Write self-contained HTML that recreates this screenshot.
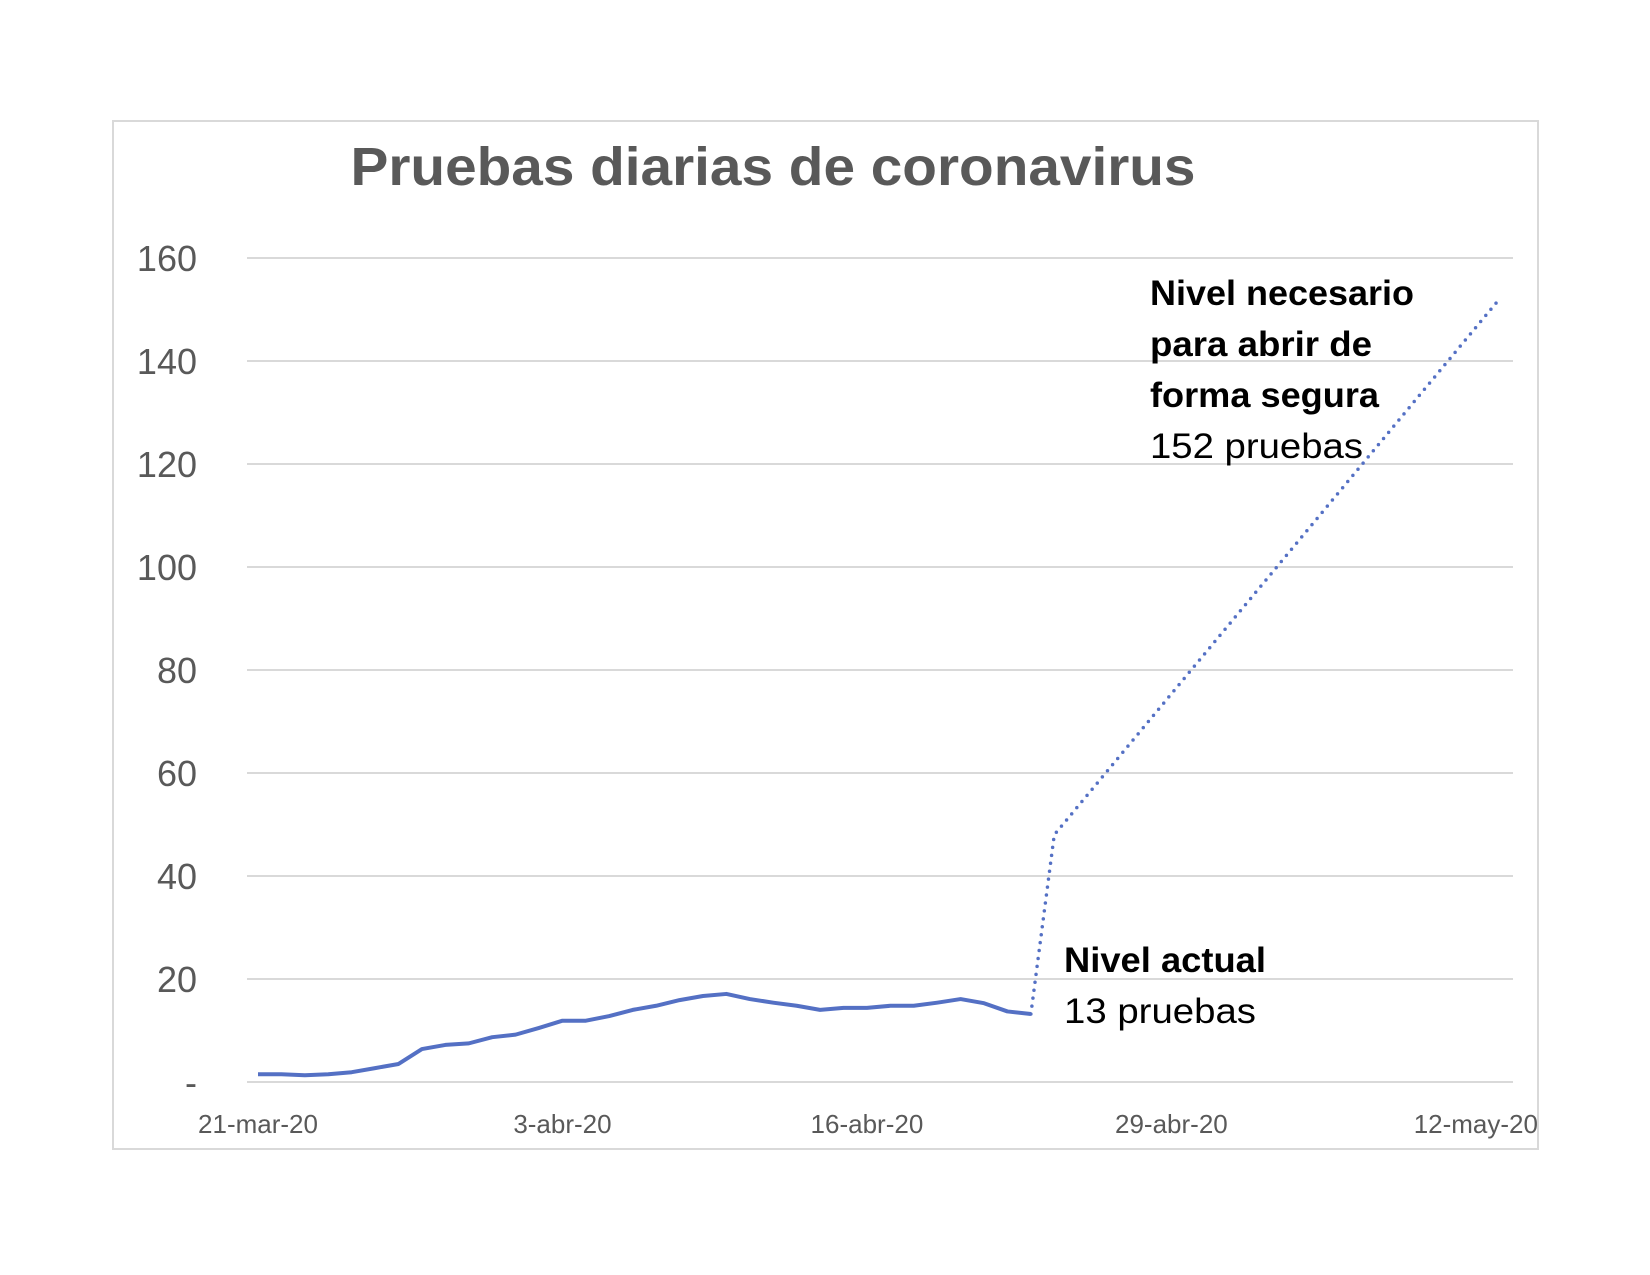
<!DOCTYPE html>
<html><head><meta charset="utf-8"><style>
html,body{margin:0;padding:0;background:#fff;}
svg{display:block;font-family:"Liberation Sans",sans-serif;}
</style></head><body>
<svg width="1650" height="1275" viewBox="0 0 1650 1275">
<rect x="113" y="121" width="1425" height="1028" fill="#fff" stroke="#d9d9d9" stroke-width="2"/>
<text x="773" y="185" text-anchor="middle" font-size="54" font-weight="bold" fill="#595959" textLength="845" lengthAdjust="spacingAndGlyphs">Pruebas diarias de coronavirus</text>
<g id="grid"></g>
<g id="yaxis"></g>
<g id="xaxis"></g>
<g id="series"></g>
<g>
<text x="1150" y="305" font-size="35" font-weight="bold" fill="#000" textLength="264" lengthAdjust="spacingAndGlyphs">Nivel necesario</text>
<text x="1150" y="356" font-size="35" font-weight="bold" fill="#000" textLength="222" lengthAdjust="spacingAndGlyphs">para abrir de</text>
<text x="1150" y="407" font-size="35" font-weight="bold" fill="#000" textLength="229" lengthAdjust="spacingAndGlyphs">forma segura</text>
<text x="1150" y="458" font-size="35" fill="#000" textLength="213" lengthAdjust="spacingAndGlyphs">152 pruebas</text>
</g>
<g>
<text x="1064" y="972" font-size="35" font-weight="bold" fill="#000" textLength="202" lengthAdjust="spacingAndGlyphs">Nivel actual</text>
<text x="1064" y="1023" font-size="35" fill="#000" textLength="192" lengthAdjust="spacingAndGlyphs">13 pruebas</text>
</g>
</svg>
<script>
const yTicks=[0,20,40,60,80,100,120,140,160];
const yTickLabels=["-","20","40","60","80","100","120","140","160"];
const xTickDays=[0,13,26,39,52];
const xTickLabels=["21-mar-20","3-abr-20","16-abr-20","29-abr-20","12-may-20"];
const actualValues=[1.5,1.5,1.3,1.5,1.9,2.7,3.5,6.4,7.2,7.5,8.7,9.2,10.5,11.9,11.9,12.8,14.0,14.8,15.9,16.7,17.1,16.1,15.4,14.8,14.0,14.4,14.4,14.8,14.8,15.4,16.1,15.3,13.7,13.2];
const projDays=[33,34,53];
const projValues=[13.2,48,152];

const NS="http://www.w3.org/2000/svg";
function xs(d){return 258+d*23.42;}
function ys(v){return 1082-v*(824/160);}
function mk(tag,attrs,parent){const e=document.createElementNS(NS,tag);for(const k in attrs)e.setAttribute(k,attrs[k]);parent.appendChild(e);return e;}
const grid=document.getElementById('grid'),ya=document.getElementById('yaxis'),xa=document.getElementById('xaxis'),se=document.getElementById('series');
yTicks.forEach((t,i)=>{
  const l=mk('line',{x1:247,x2:1513,y1:ys(t),y2:ys(t),stroke:'#d9d9d9','stroke-width':2},grid);
  
  
  const tx=mk('text',{x:197,y:ys(t)+13,'text-anchor':'end','font-size':36,fill:'#595959'},ya);
  tx.textContent=yTickLabels[i];
  
  
});
const cp=mk('clipPath',{id:'cl'},xa);mk('rect',{x:113,y:1090,width:1425,height:60},cp);
xTickDays.forEach((d,i)=>{
  const tx=mk('text',{x:xs(d),y:1133,'text-anchor':'middle','font-size':26,fill:'#595959','clip-path':'url(#cl)'},xa);
  tx.textContent=xTickLabels[i];
  
  
});
const p=mk('polyline',{points:actualValues.map((v,i)=>xs(i)+','+ys(v)).join(' '),fill:'none',stroke:'#5470c4','stroke-width':4,'stroke-linejoin':'round'},se);


const q=mk('polyline',{points:projDays.map((d,i)=>xs(d)+','+ys(projValues[i])).join(' '),fill:'none',stroke:'#5470c4','stroke-width':3.5,'stroke-dasharray':'0 8','stroke-linecap':'round'},se);


</script>
</body></html>
